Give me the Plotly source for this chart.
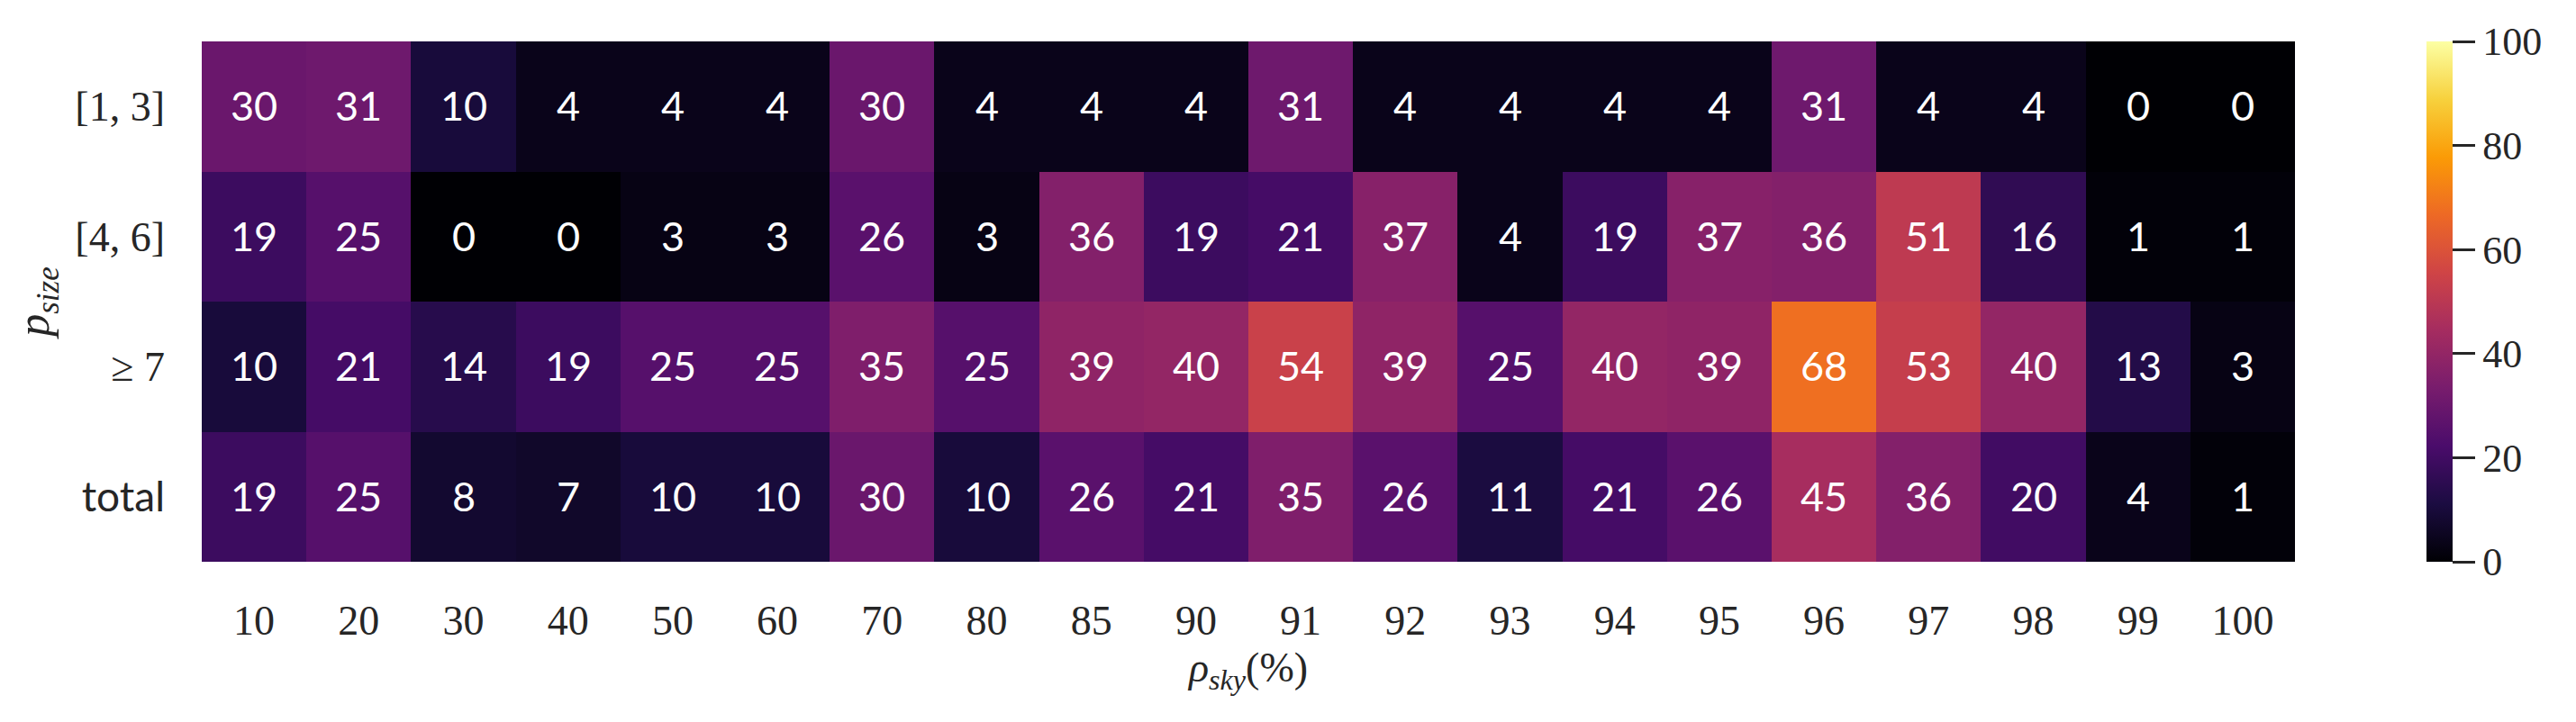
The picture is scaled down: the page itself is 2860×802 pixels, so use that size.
import plotly.graph_objects as go

x_labels = ["10", "20", "30", "40", "50", "60", "70", "80", "85", "90",
            "91", "92", "93", "94", "95", "96", "97", "98", "99", "100"]
y_labels = ["[1, 3]", "[4, 6]", "≥ 7", "total"]

row_1_3 = [30, 31, 10, 4, 4, 4, 30, 4, 4, 4, 31, 4, 4, 4, 4, 31, 4, 4, 0, 0]
row_4_6 = [19, 25, 0, 0, 3, 3, 26, 3, 36, 19, 21, 37, 4, 19, 37, 36, 51, 16, 1, 1]
row_ge7 = [10, 21, 14, 19, 25, 25, 35, 25, 39, 40, 54, 39, 25, 40, 39, 68, 53, 40, 13, 3]
row_total = [19, 25, 8, 7, 10, 10, 30, 10, 26, 21, 35, 26, 11, 21, 26, 45, 36, 20, 4, 1]

z = [row_1_3, row_4_6, row_ge7, row_total]

inferno = ['#000004', '#1b0c41', '#4a0c6b', '#781c6d', '#a52c60',
           '#cf4446', '#ed6925', '#fb9b06', '#f7d13d', '#fcffa4']
colorscale = [[i / (len(inferno) - 1), c] for i, c in enumerate(inferno)]

W, H = 2860, 802
OFF = 8  # page body margin
L, T = 224 - OFF, 46 - OFF
plot_w, plot_h = 2324, 578
R = W - L - plot_w
B = H - T - plot_h

serif = "Liberation Serif, DejaVu Serif, serif"
sans = "Lato, Open Sans, sans-serif"

y_ticktext = ["[1, 3]", "[4, 6]", "≥ 7",
              '<span style="font-family:Lato, sans-serif">total</span>']

fig = go.Figure(go.Heatmap(
    z=z,
    x=x_labels,
    y=y_labels,
    zmin=0, zmax=100,
    colorscale=colorscale,
    texttemplate="%{z}",
    textfont=dict(family=sans, size=45, color="white"),
    colorbar=dict(
        x=(2694 - 224) / plot_w, xanchor="left", xpad=0,
        y=0.5, yanchor="middle", len=1, lenmode="fraction", ypad=0,
        thickness=29, thicknessmode="pixels",
        outlinewidth=0,
        tickmode="array", tickvals=[0, 20, 40, 60, 80, 100],
        ticks="outside", ticklen=25, tickwidth=3, tickcolor="#262626",
        tickfont=dict(family=serif, size=44, color="#262626"),
    ),
    showscale=True,
))

fig.update_layout(
    width=W, height=H,
    margin=dict(l=L, r=R, t=T, b=B, pad=0, autoexpand=False),
    paper_bgcolor="white", plot_bgcolor="white",
    xaxis=dict(
        type="category", showgrid=False, zeroline=False, showline=False,
        ticks="", ticklabelstandoff=34,
        tickfont=dict(family=serif, size=46, color="#262626"),
        title=dict(text="<i>ρ</i><sub><i>sky</i></sub>(%)",
                   font=dict(family=serif, size=46, color="#262626"),
                   standoff=10),
    ),
    yaxis=dict(
        type="category", autorange="reversed", showgrid=False, zeroline=False,
        showline=False, ticks="",
        tickmode="array", tickvals=y_labels, ticktext=y_ticktext,
        ticklabelstandoff=40,
        tickfont=dict(family=serif, size=46, color="#262626"),
        title=dict(text="<i>p</i><sub><i>size</i></sub>",
                   font=dict(family=serif, size=50, color="#262626"),
                   standoff=12),
    ),
)

fig.write_html("out.html")
